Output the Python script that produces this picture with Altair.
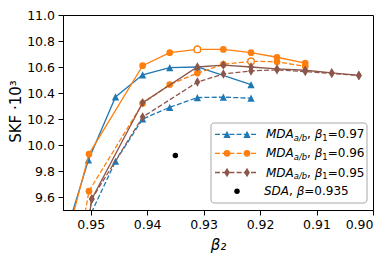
import altair as alt
import pandas as pd

BLUE, ORANGE, BROWN = "#1f77b4", "#ff7f0e", "#8c564b"

# ---- data ----
# beta1 = 0.97
b2_097_solid = [0.955, 0.9504, 0.9456, 0.9408, 0.9360, 0.9311, 0.9216]
skf_097_solid = [9.23, 9.885, 10.37, 10.54, 10.595, 10.60, 10.465]
b2_097_dash = [0.9504, 0.9456, 0.9408, 0.9360, 0.9311, 0.9265, 0.9216]
skf_097_dash = [9.43, 9.875, 10.20, 10.29, 10.365, 10.368, 10.36]
# beta1 = 0.96
b2_096 = [0.955, 0.9503, 0.9408, 0.9360, 0.9311, 0.9265, 0.9216, 0.9170, 0.9120]
skf_096_solid = [9.15, 9.93, 10.61, 10.71, 10.735, 10.735, 10.71, 10.675, 10.63]
skf_096_dash = [8.5, 9.645, 10.32, 10.465, 10.553, 10.62, 10.644, 10.64, 10.605]
# beta1 = 0.95
b2_095 = [0.955, 0.9498, 0.9408, 0.9311, 0.9265, 0.9216, 0.9170, 0.9120, 0.9073, 0.9025]
skf_095_solid = [8.1, 9.585, 10.326, 10.60, 10.615, 10.60, 10.585, 10.575, 10.555, 10.535]
skf_095_dash = [8.1, 9.585, 10.215, 10.484, 10.546, 10.57, 10.578, 10.565, 10.55, 10.535]
# open (hollow) markers
open_b2 = [0.9311, 0.9216]
open_skf = [10.735, 10.644]
# SDA
sda_b2 = [0.935]
sda_skf = [9.92]

x_ticks = [0.95, 0.94, 0.93, 0.92, 0.91, 0.90]
y_ticks = [9.6, 9.8, 10.0, 10.2, 10.4, 10.6, 10.8, 11.0]

legend_betas = ["0.97", "0.96", "0.95"]
legend_colors = [BLUE, ORANGE, BROWN]

TRI = "M0,-1L1,1L-1,1Z"
DIA = "M0,-1L0.6,0L0,1L-0.6,0Z"
shapes = [TRI, "circle", DIA]
sizes = [52, 45, 90]

FONT = "DejaVu Sans"
TOP = 7       # padding above plot area
H = 195       # plot height

X = alt.X("beta2:Q",
          scale=alt.Scale(domain=[0.9, 0.9549], reverse=True, nice=False, zero=False),
          axis=alt.Axis(values=x_ticks, format=".2f", title="β₂", titleFontSize=15,
                        titleFontStyle="italic", titleFontWeight="normal",
                        titleX=155, titleY=39, titleBaseline="alphabetic",
                        titleAlign="center"))
Y = alt.Y("skf:Q",
          scale=alt.Scale(domain=[9.5, 11.0], nice=False, zero=False),
          axis=alt.Axis(values=y_ticks, format=".1f", title="SKF ·10³", titleFontSize=15,
                        titleFontWeight="normal", titleX=-43, titleY=96, titleAngle=-90,
                        titleBaseline="alphabetic", titleAlign="center"))


def df(b2, skf):
    return pd.DataFrame({"beta2": b2, "skf": skf})


DASH = [5, 2.2]
series = [
    (b2_097_solid, skf_097_solid, 0, False),
    (b2_097_dash, skf_097_dash, 0, True),
    (b2_096, skf_096_solid, 1, False),
    (b2_096, skf_096_dash, 1, True),
    (b2_095, skf_095_solid, 2, False),
    (b2_095, skf_095_dash, 2, True),
]

layers = []
for b2, skf, ci, dashed in series:
    c = legend_colors[ci]
    d = df(b2, skf)
    lk = dict(color=c, strokeWidth=1.3, clip=True)
    if dashed:
        lk["strokeDash"] = DASH
    layers.append(alt.Chart(d).mark_line(**lk).encode(x=X, y=Y))
    layers.append(alt.Chart(d).mark_point(shape=shapes[ci], size=sizes[ci], filled=True,
                                          color=c, opacity=1, clip=True).encode(x=X, y=Y))
    if ci == 1:
        layers.append(alt.Chart(df(open_b2, open_skf)).mark_point(
            shape="circle", size=42, filled=False, fill="white", fillOpacity=1,
            stroke=ORANGE, strokeWidth=1.2, opacity=1, clip=True).encode(x=X, y=Y))

layers.append(alt.Chart(df(sda_b2, sda_skf)).mark_point(
    shape="circle", size=30, filled=True, color="black", opacity=1).encode(x=X, y=Y))

# ---- legend (drawn by hand, matplotlib-style) ----
one = pd.DataFrame({"k": [0]})
PT = 8 + TOP  # page y of the plot top
layers.append(alt.Chart(one).mark_rect(
    cornerRadius=3, fill="white", fillOpacity=0.8, stroke="#a8a8a8", strokeWidth=1
).encode(x=alt.value(148), x2=alt.value(304), y=alt.value(123 - PT), y2=alt.value(203 - PT)))

W = {'M': 1767, 'D': 1577, 'A': 1401, 'S': 1300, 'a': 1255, 'b': 1300, '/': 690, ',': 651,
     ' ': 651, '=': 1716, '.': 651, 'β': 1300}


def tw(s, size):
    return sum(W.get(ch, 1303) for ch in s) / 2048 * size


FS = 12
SUB = 8.4


def text_layer(txt, x, y, size=FS, italic=False):
    kw = dict(text=txt, align="left", baseline="middle", font=FONT, fontSize=size, color="black")
    if italic:
        kw["fontStyle"] = "italic"
    return alt.Chart(one).mark_text(**kw).encode(x=alt.value(x), y=alt.value(y))


row_y = [134.3 - PT, 153.3 - PT, 172.5 - PT, 191.2 - PT]
x0 = 203
for i, (bt, c) in enumerate(zip(legend_betas, legend_colors)):
    ry = row_y[i]
    layers.append(alt.Chart(one).mark_rule(color=c, strokeWidth=1.3, strokeDash=DASH).encode(
        x=alt.value(152), x2=alt.value(195), y=alt.value(ry)))
    for mx in (164, 184):
        layers.append(alt.Chart(one).mark_point(shape=shapes[i], size=sizes[i], filled=True,
                                                color=c, opacity=1).encode(
            x=alt.value(mx), y=alt.value(ry)))
    x = x0
    layers.append(text_layer("MDA", x, ry, italic=True)); x += tw("MDA", FS)
    layers.append(text_layer("a/b", x, ry + 3.5, SUB, italic=True)); x += tw("a/b", SUB)
    layers.append(text_layer(",", x, ry)); x += tw(", ", FS)
    layers.append(text_layer("β", x, ry, italic=True)); x += tw("β", FS)
    layers.append(text_layer("1", x, ry + 3.5, SUB)); x += tw("1", SUB)
    layers.append(text_layer("=" + bt, x, ry))

ry = row_y[3]
layers.append(alt.Chart(one).mark_point(shape="circle", size=30, filled=True, color="black",
                                        opacity=1).encode(x=alt.value(174), y=alt.value(ry)))
x = 201
layers.append(text_layer("SDA", x, ry, italic=True)); x += tw("SDA", FS)
layers.append(text_layer(",", x, ry)); x += tw(", ", FS)
layers.append(text_layer("β", x, ry, italic=True)); x += tw("β", FS)
layers.append(text_layer("=0.935", x, ry))

chart = alt.layer(*layers).properties(
    width=310, height=H, autosize="none",
    padding={"left": 55, "top": TOP, "right": 8, "bottom": 248 - TOP - H}
).configure_view(stroke="black", strokeWidth=1).configure_axis(
    grid=False, domainColor="black", domainWidth=1, tickColor="black", tickWidth=1,
    tickSize=5, labelColor="black", labelFont=FONT, labelFontSize=12.5, titleFont=FONT,
    titleColor="black", labelPadding=3.5
)

chart.save("out.html", embed_options={"renderer": "svg", "actions": False})
